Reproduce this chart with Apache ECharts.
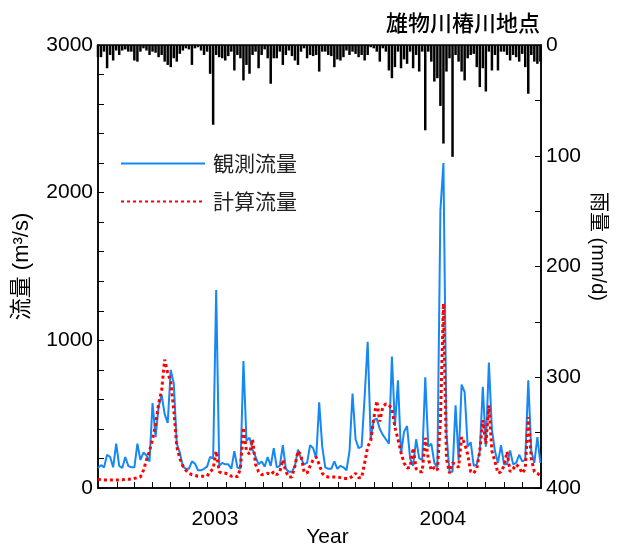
<!DOCTYPE html>
<html><head><meta charset="utf-8">
<script src="https://cdn.jsdelivr.net/npm/echarts@6/dist/echarts.min.js"></script>
<style>html,body{margin:0;padding:0;background:#fff}#c{width:619px;height:547px}</style>
</head><body><div id="c"></div>
<script>
// Samples every 5 days starting 2003-01-01 (day 0) to 2004-12-31 (day 730)
const stepDays = 5;
const flowObs = [
 135,155,140,225,210,140,300,150,135,210,
 150,140,140,300,190,240,220,180,575,345,
 550,630,500,440,800,710,300,240,145,130,
 130,180,165,120,120,130,145,210,200,1340,
 150,170,160,160,130,250,140,130,860,320,
 340,260,210,160,180,145,210,150,270,140,
 150,290,130,110,110,150,260,200,160,170,
 290,270,200,580,280,140,130,130,180,130,
 150,140,120,250,640,330,270,280,620,990,
 330,460,470,400,360,330,300,890,420,730,
 230,380,420,200,150,330,200,190,750,280,
 300,170,140,1880,2200,370,110,110,560,190,
 700,650,280,310,150,160,250,685,280,850,
 395,250,170,290,160,160,255,160,170,225,
 180,190,730,250,170,345,170
];
const flowCalc = [
 60,55,55,55,55,55,55,55,55,60,
 60,60,65,70,75,120,190,250,330,430,
 570,660,870,780,720,530,280,200,150,120,
 100,90,85,80,80,80,80,110,130,250,
 110,100,100,95,80,85,75,130,410,250,
 230,330,160,110,90,95,100,90,110,90,
 110,190,110,75,75,150,250,220,110,100,
 150,190,210,160,100,80,75,75,75,75,
 70,65,65,65,80,100,70,70,170,280,
 320,470,590,450,550,570,560,540,410,330,
 240,170,135,140,270,130,110,110,340,200,
 120,140,120,450,1250,200,100,170,160,140,
 345,300,230,110,100,130,250,460,300,560,
 250,180,100,110,150,245,110,130,160,140,
 100,130,480,200,110,100,80
];
const rainfall = [
 11,11,6,21,9,14,5,9,5,4,
 6,6,14,15,6,3,5,9,6,7,
 11,9,15,18,20,12,15,8,5,3,
 4,18,3,2,5,9,6,26,72,9,
 11,12,14,10,6,23,9,12,32,18,
 26,9,6,21,9,4,12,35,12,12,
 6,18,9,5,10,14,18,6,3,12,
 9,10,9,24,6,6,9,10,20,13,
 14,11,5,9,6,8,11,9,14,9,
 2,3,6,15,3,6,23,30,20,6,
 21,13,17,6,21,9,24,6,77,6,
 15,33,30,55,89,24,12,101,9,15,
 24,32,12,9,8,20,38,21,42,6,
 23,9,23,6,6,9,14,9,11,15,
 8,20,44,9,15,17,15
];
// month boundaries (days since 2003-01-01)
const monthStarts = [31,59,90,120,151,181,212,243,273,304,334,365,396,425,456,486,517,547,578,609,639,670,700];
const yearLabelDays = [193, 569];
const yearLabels = ['2003', '2004'];
const flowTicks = [0, 1000, 2000, 3000];
const rainTicks = [0, 100, 200, 300, 400];
const seriesNames = ['観測流量', '計算流量'];
const titleText = '雄物川椿川地点';

const FONT = "'Liberation Sans', Arial, 'Noto Sans CJK JP', sans-serif";
const pairs = arr => arr.map((v, i) => [i * stepDays, v]);

const chart = echarts.init(document.getElementById('c'), null, {renderer: 'canvas'});
chart.setOption({
  animation: false,
  textStyle: {fontFamily: FONT, color: '#000'},
  title: {
    text: titleText, right: 74, top: 7,
    textStyle: {fontSize: 22, fontWeight: 500, color: '#000', fontFamily: "'Noto Sans CJK JP', sans-serif"}
  },
  legend: {
    data: seriesNames,
    orient: 'vertical', left: 120, top: 153, padding: 0,
    itemWidth: 84, itemHeight: 21, itemGap: 17,
    itemStyle: {opacity: 0},
    textStyle: {fontSize: 21, color: '#222', fontFamily: "'Noto Sans CJK JP', sans-serif", padding: [0, 0, 0, 3]}
  },
  grid: {left: 98, right: 78, top: 45, bottom: 59, outerBoundsMode: 'none', containLabel: false,
    show: true, borderColor: '#000', borderWidth: 1.5, backgroundColor: 'transparent'},
  xAxis: {
    type: 'value', min: 0, max: 731,
    axisLine: {show: true, lineStyle: {color: '#000', width: 1.5}},
    axisTick: {show: true, inside: true, length: 6, customValues: monthStarts, lineStyle: {color: '#000', width: 1}},
    axisLabel: {show: true, customValues: yearLabelDays, margin: 21, fontSize: 21, color: '#000',
      formatter: v => yearLabels[yearLabelDays.indexOf(v)]},
    splitLine: {show: false},
    name: 'Year', nameLocation: 'middle', nameGap: 39, nameMoveOverlap: false,
    nameTextStyle: {fontSize: 21, color: '#000', padding: [0, 0, 0, 16]}
  },
  yAxis: [{
    type: 'value', min: 0, max: 3000, interval: 1000, position: 'left',
    axisLine: {show: true, lineStyle: {color: '#000', width: 1.5}},
    axisTick: {show: true, inside: true, length: 6, lineStyle: {color: '#000'}},
    minorTick: {show: true, splitNumber: 5, length: 6, lineStyle: {color: '#000'}},
    axisLabel: {fontSize: 21, color: '#000', margin: 5, formatter: v => flowTicks.includes(v) ? String(v) : ''},
    splitLine: {show: false},
    name: '流量 (m³/s)', nameLocation: 'middle', nameRotate: 90, nameGap: 65, nameMoveOverlap: false,
    nameTextStyle: {fontSize: 22, color: '#000'}
  }, {
    type: 'value', min: 0, max: 400, interval: 100, position: 'right', inverse: true,
    axisLine: {show: true, lineStyle: {color: '#000', width: 1.5}},
    axisTick: {show: true, inside: true, length: 6, lineStyle: {color: '#000'}},
    minorTick: {show: true, splitNumber: 2, length: 6, lineStyle: {color: '#000'}},
    axisLabel: {fontSize: 21, color: '#000', margin: 5, formatter: v => rainTicks.includes(v) ? String(v) : ''},
    splitLine: {show: false},
    name: '雨量 (mm/d)', nameLocation: 'middle', nameRotate: -90, nameGap: 47, nameMoveOverlap: false,
    nameTextStyle: {fontSize: 20, color: '#000', padding: [0, 40, 0, 0]}
  }],
  series: [{
    name: 'rain', type: 'bar', yAxisIndex: 1, data: pairs(rainfall),
    barWidth: 2.5, itemStyle: {color: '#000'}, silent: true
  }, {
    name: seriesNames[0], type: 'line', yAxisIndex: 0, data: pairs(flowObs),
    symbol: 'none', color: '#1588F5',
    lineStyle: {color: '#1588F5', width: 2, join: 'bevel'}
  }, {
    name: seriesNames[1], type: 'line', yAxisIndex: 0, data: pairs(flowCalc),
    symbol: 'none', color: '#FF0000',
    lineStyle: {color: '#FF0000', width: 3, type: [3, 3], cap: 'butt', join: 'bevel'}
  }]
});
</script>
</body></html>
